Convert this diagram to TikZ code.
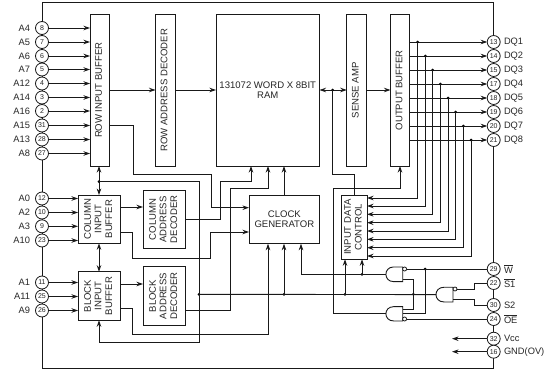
\documentclass[tikz,border=0pt]{standalone}
\usepackage{fontspec}
\setmainfont{Liberation Sans}
\usetikzlibrary{arrows.meta,calc}
\newcommand{\barlab}[1]{$\overline{\mbox{#1}}$}
\newcommand{\vtxt}[1]{\rotatebox{90}{\begin{tabular}{@{}c@{}}#1\end{tabular}}}
\tikzset{
  wire/.style={line width=0.9pt,draw=black!90},
  arr/.style={wire,-{Stealth[length=6.5pt,width=4.5pt]}},
  darr/.style={wire,{Stealth[length=6.5pt,width=4.5pt]}-{Stealth[length=6.5pt,width=4.5pt]}},
  blk/.style={draw=black!90,line width=0.95pt,fill=white,inner sep=0pt,outer sep=0pt,align=center,
    font=\fontsize{9.55}{10.6}\selectfont,text=black!85},
  pin/.style={circle,draw=black!90,line width=0.8pt,fill=white,minimum size=13pt,inner sep=0pt,outer sep=0pt,
    font=\fontsize{7}{7}\selectfont,text=black!85},
  lab/.style={inner sep=0pt,outer sep=0pt,font=\fontsize{9.3}{10.5}\selectfont,text=black!85},
  dotn/.style={circle,fill=black,inner sep=0pt,outer sep=0pt,minimum size=3pt},
  bub/.style={circle,draw=black!90,line width=0.8pt,fill=white,inner sep=0pt,outer sep=0pt,minimum size=4pt},
  gatebox/.style={inner sep=0pt,outer sep=0pt},
}
\newcommand{\gateD}[1]{%
  \draw[wire,fill=white] (#1.north east) -- (#1.south east) -- ([xshift=-9pt]#1.south east)
    .. controls ([xshift=-2.7pt]#1.south west) and ([xshift=-2.7pt]#1.north west) .. ([xshift=-9pt]#1.north east) -- cycle;}
\begin{document}
\begin{tikzpicture}[x=1pt,y=-1pt]
\useasboundingbox (0,0) rectangle (544,372);
% frame
\node[draw=black!90,line width=0.95pt,inner sep=0pt,outer sep=0pt,minimum width=451.5pt,minimum height=365.5pt] (frame) at (267.75,185.25) {};
% blocks
\node[blk,minimum width=19.5pt,minimum height=151.5pt] (rib) at (99.75,90.25) {\vtxt{ROW INPUT BUFFER}};
\node[blk,minimum width=19.5pt,minimum height=151.5pt] (rad) at (165.25,90.25) {\vtxt{ROW ADDRESS DECODER}};
\node[blk,minimum width=103.5pt,minimum height=151.5pt] (ram) at (267.75,90.25) {131072 WORD X 8BIT\\RAM};
\node[blk,minimum width=19.5pt,minimum height=151.5pt] (sa) at (356.5,90.25) {\vtxt{SENSE AMP}};
\node[blk,minimum width=19.5pt,minimum height=151.5pt] (ob) at (400.2,90.25) {\vtxt{OUTPUT BUFFER}};
\node[blk,minimum width=42.7pt,minimum height=48.3pt] (cib) at (99.35,219.2) {\vtxt{COLUMN\\INPUT\\BUFFER}};
\node[blk,minimum width=42.7pt,minimum height=58.7pt] (cad) at (164.35,219.35) {\vtxt{COLUMN\\ADDRESS\\DECODER}};
\node[blk,minimum width=42.7pt,minimum height=48.6pt] (bib) at (99.35,296) {\vtxt{BLOCK\\INPUT\\BUFFER}};
\node[blk,minimum width=42.7pt,minimum height=58.6pt] (bad) at (164.35,296) {\vtxt{BLOCK\\ADDRESS\\DECODER}};
\node[blk,minimum width=70.7pt,minimum height=48.7pt] (clk) at (284.35,219.35) {CLOCK\\GENERATOR};
\node[blk,minimum width=25.7pt,minimum height=64.3pt] (idc) at (354.15,227.15) {\vtxt{INPUT DATA\\CONTROL}};
% gates
\node[gatebox,minimum width=16.7pt,minimum height=14.7pt] (gu) at (394.35,274.3) {};
\node[gatebox,minimum width=16.7pt,minimum height=14.3pt] (gl) at (394.35,313.8) {};
\node[gatebox,minimum width=17pt,minimum height=14.7pt] (gs) at (444.5,294.6) {};
\gateD{gu}\gateD{gl}\gateD{gs}
\node[bub] (bu) at (404.6,269) {};
\node[bub] (bl) at (404.6,319) {};
\node[bub] (bs) at (455,289) {};
% left pins
\foreach \n/\t/\y in {8/A4/28,7/A5/42,6/A6/56,5/A7/69.5,4/A12/83.5,3/A14/97.5,2/A16/111,31/A15/125.5,28/A13/139.5,27/A8/153.5}{
  \node[pin] (p\n) at (42,\y) {\n};
  \node[lab,anchor=east] (l\n) at (30,\y) {\t};
  \draw[arr] (p\n) -- (p\n -| rib.west);
}
\foreach \n/\t/\y in {12/A0/198.5,10/A2/212.5,9/A3/226.3,23/A10/240.5}{
  \node[pin] (p\n) at (42,\y) {\n};
  \node[lab,anchor=east] (l\n) at (30,\y) {\t};
  \draw[arr] (p\n) -- (p\n -| cib.west);
}
\foreach \n/\t/\y in {11/A1/282.5,25/A11/296.5,26/A9/310.5}{
  \node[pin] (p\n) at (42,\y) {\n};
  \node[lab,anchor=east] (l\n) at (30,\y) {\t};
  \draw[arr] (p\n) -- (p\n -| bib.west);
}
% right pins DQ
\foreach \n/\t/\y/\vx/\iy in {13/DQ1/42/417.7/198,14/DQ2/56/425.3/206,15/DQ3/70/432.7/214.3,17/DQ4/84/440.3/222.7,18/DQ5/98/448/231,19/DQ6/112/455.7/239.3,20/DQ7/126/463.3/247.7,21/DQ8/140/471/256}{
  \node[pin] (p\n) at (493.7,\y) {\n};
  \node[lab,anchor=west] (l\n) at (504,\y) {\t};
  \draw[arr] (ob.east |- p\n) -- (p\n);
  \node[dotn] (dq\n) at (\vx,\y) {};
  \coordinate (t\n) at (0,\iy);
  \draw[arr] (dq\n.center) |- (idc.east |- t\n);
}
% right control pins
\node[pin] (p29) at (493.7,269) {29}; \node[lab,anchor=west] (l29) at (504,269) {\barlab{W}};
\node[pin] (p22) at (493.7,283) {22}; \node[lab,anchor=west] (l22) at (504,283) {\barlab{S1}};
\node[pin] (p30) at (493.7,305) {30}; \node[lab,anchor=west] (l30) at (504,305) {S2};
\node[pin] (p24) at (493.7,319) {24}; \node[lab,anchor=west] (l24) at (504,319) {\barlab{OE}};
\node[pin] (p32) at (493.7,338.7) {32}; \node[lab,anchor=west] (l32) at (504,338.7) {Vcc};
\node[pin] (p16) at (493.7,351.7) {16}; \node[lab,anchor=west] (l16) at (504,351.7) {GND(OV)};
\coordinate (e32) at (452,338.7);
\coordinate (e16) at (452,351.7);
\draw[arr] (p32) -- (e32);
\draw[arr] (p16) -- (e16);
% main data path
\draw[arr] (rib.east |- 0,90) -- (rad.west |- 0,90);
\draw[arr] (rad.east |- 0,90) -- (ram.west |- 0,90);
\draw[darr] (ram.east |- 0,90) -- (sa.west |- 0,90);
\draw[arr] (sa.east |- 0,90) -- (ob.west |- 0,90);
\node[dotn] (d1) at (332.7,90) {};
\draw[wire] (d1.center) |- (354.5,174) -- (idc.north -| 354.5,0);
% row buffer second output to clock
\draw[arr] (rib.east |- 0,125.5) -- (133,125.5) -- (133,174.5) -- (211,174.5) -- (211,207.7) -- (clk.west |- 0,207.7);
% column buffer second output to clock
\draw[arr] (cib.east |- 0,232) -- (132,232) -- (132,258.3) -- (210,258.3) -- (210,232) -- (clk.west |- 0,232);
% block buffer second output to clock
\draw[arr] (bib.east |- 0,308) -- (132,308) -- (132,334.3) -- (268,334.3) -- (clk.south -| 268,0);
% buffers vertical control
\draw[darr] (rib.south -| 99,0) -- (cib.north -| 99,0);
\draw[darr] (cib.south -| 99,0) -- (bib.north -| 99,0);
\node[dotn] (d2) at (99,181.5) {};
\node[dotn] (d3) at (199,294.3) {};
\draw[arr] (d2.center) -- (199,181.5) -- (199,342.7) -- (99,342.7) -- (bib.south -| 99,0);
% decoders
\draw[arr] (cib.east |- 0,207) -- (cad.west |- 0,207);
\draw[arr] (bib.east |- 0,284) -- (bad.west |- 0,284);
\draw[arr] (cad.east |- 0,219.3) -- (220.5,219.3) -- (220.5,181) -- (251,181) -- (ram.south -| 251,0);
\draw[arr] (bad.east |- 0,310) -- (230.7,310) -- (230.7,188) -- (268,188) -- (ram.south -| 268,0);
\draw[arr] (clk.north -| 284,0) -- (ram.south -| 284,0);
% output buffer feedback
\draw[arr] (gl.west) -- (333.7,313.8) -- (333.7,188) -- (400,188) -- (ob.south -| 400,0);
% global select line
\node[dotn] (d4) at (284,294.3) {};
\node[dotn] (d5) at (345,294.3) {};
\node[dotn] (d6) at (413.3,294.3) {};
\draw[wire] (d3.center) -- (gs.west);
\draw[arr] (d4.center) -- (clk.south -| 284,0);
\draw[arr] (d5.center) -- (idc.south -| 345,0);
% upper gate output
\node[dotn] (d7) at (362,274.3) {};
\draw[arr] (gu.west) -- (301,274.3) -- (clk.south -| 301,0);
\draw[arr] (d7.center) -- (idc.south -| 362,0);
% gate inputs
\node[dotn] (d8) at (425,269) {};
\draw[wire] (bu) -- (p29);
\draw[wire] (bl) -- (p24);
\draw[wire] (gu.east |- 0,279.7) -- (413.3,279.7) -- (413.3,309) -- (gl.east |- 0,309);
\draw[wire] (d8.center) -- (425,313) -- (gl.east |- 0,313);
\draw[wire] (bs) -- (474.3,289) -- (474.3,283) -- (p22);
\draw[wire] (gs.east |- 0,299.3) -- (474.3,299.3) -- (474.3,305) -- (p30);
\end{tikzpicture}
\end{document}
